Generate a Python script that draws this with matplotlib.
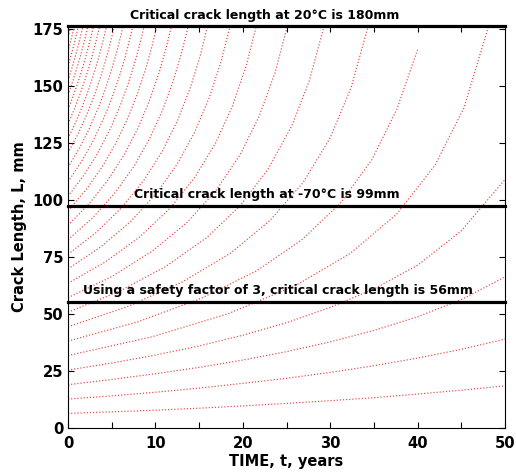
import matplotlib
matplotlib.use('Agg')
import matplotlib.pyplot as plt
from matplotlib.ticker import MultipleLocator

# crack growth curves, one per initial crack length
crack_t = [
    [0, 5, 10, 15, 20, 25, 30, 35, 40, 45, 50],
    [0, 5, 10, 15, 20, 25, 30, 35, 40, 45, 50],
    [0, 5, 10, 15, 20, 25, 30, 35, 40, 45, 50],
    [0, 5, 10, 15, 20, 25, 30, 35, 40, 45, 50],
    [0, 9.6, 18.3, 26, 32.3, 37.6, 42, 45.3, 48.2],
    [0, 8, 15.2, 21.6, 26.8, 31.2, 34.8, 37.6, 40],
    [0, 6.9, 13.1, 18.6, 23.1, 26.9, 30, 32.4, 34.5],
    [0, 5.9, 11.2, 15.9, 19.7, 22.9, 25.6, 27.6, 29.4],
    [0, 5, 9.6, 13.6, 16.9, 19.7, 21.9, 23.7, 25.2],
    [0, 4.3, 8.2, 11.7, 14.5, 16.9, 18.8, 20.4, 21.7],
    [0, 3.7, 7.1, 10.1, 12.5, 14.5, 16.2, 17.5, 18.6],
    [0, 3.2, 6.1, 8.7, 10.8, 12.5, 14, 15.1, 16.1],
    [0, 2.8, 5.3, 7.5, 9.3, 10.8, 12, 13, 13.8],
    [0, 2.4, 4.5, 6.4, 8, 9.3, 10.4, 11.2, 11.9],
    [0, 2.1, 3.9, 5.5, 6.9, 8, 8.9, 9.6, 10.3],
    [0, 1.8, 3.3, 4.8, 5.9, 6.9, 7.7, 8.3, 8.8],
    [0, 1.5, 2.9, 4.1, 5, 5.9, 6.5, 7.1, 7.5],
    [0, 1.3, 2.4, 3.5, 4.3, 5, 5.6, 6, 6.4],
    [0, 1.08, 2.05, 2.91, 3.61, 4.2, 4.69, 5.07, 5.39],
    [0, 0.9, 1.71, 2.43, 3.02, 3.51, 3.92, 4.23, 4.5],
    [0, 0.74, 1.41, 2, 2.49, 2.89, 3.23, 3.49, 3.71],
    [0, 0.6, 1.14, 1.62, 2.01, 2.34, 2.61, 2.82, 3],
    [0, 0.47, 0.9, 1.28, 1.59, 1.85, 2.06, 2.22, 2.37],
    [0, 0.36, 0.68, 0.97, 1.2, 1.4, 1.56, 1.69, 1.79],
    [0, 0.26, 0.49, 0.69, 0.86, 1, 1.11, 1.2, 1.28],
    [0, 0.16, 0.31, 0.44, 0.54, 0.63, 0.71, 0.76, 0.81],
    [0, 0.08, 0.15, 0.21, 0.26, 0.3, 0.34, 0.36, 0.39],
]
crack_L = [
    [6.4, 7.1, 7.8, 8.7, 9.7, 10.8, 12, 13.3, 14.9, 16.6, 18.5],
    [12.7, 14.1, 15.7, 17.5, 19.6, 21.8, 24.4, 27.3, 30.7, 34.5, 39],
    [19, 21.3, 23.8, 26.6, 29.8, 33.5, 37.8, 42.8, 48.8, 56.3, 66.3],
    [25.4, 28.5, 32, 36, 40.7, 46.2, 52.9, 61, 71.4, 86.5, 109],
    [31.8, 40, 50.1, 62.4, 76.6, 93.8, 115.3, 140.4, 177.3],
    [38.1, 46.6, 56.8, 69, 82.7, 98.8, 117.9, 139.6, 166],
    [44.4, 53.4, 64.1, 76.7, 91, 107.7, 127.3, 149.4, 178.5],
    [50.8, 60, 70.9, 83.6, 97.5, 113.6, 132.5, 152.2, 177.7],
    [57.2, 66.4, 77.5, 90.1, 104, 119.9, 137, 156, 177.8],
    [63.5, 72.9, 83.8, 96.5, 109.9, 125.1, 141.1, 159.1, 178.6],
    [69.8, 79.3, 90.3, 102.8, 115.8, 129.8, 145.3, 160.6, 177.1],
    [76.2, 85.7, 96.5, 108.8, 121.5, 134.6, 149.3, 162.9, 178.4],
    [82.6, 92.1, 102.8, 114.5, 126.7, 139.3, 151.8, 164.6, 177],
    [88.9, 98.3, 108.4, 119.7, 131.5, 143.4, 155.6, 166.3, 177.3],
    [95.2, 104.7, 114.5, 125.1, 136.4, 147.2, 157.7, 167.3, 178.5],
    [101.6, 110.8, 119.9, 130.9, 140.7, 151.2, 161.1, 169.7, 177.8],
    [108, 116.6, 126.1, 135.9, 144.5, 154.5, 162.2, 171, 177.5],
    [114.3, 122.7, 131, 140.8, 149, 157.3, 165.4, 171.4, 178],
    [120.6, 128.5, 136.6, 144.9, 152.6, 159.9, 166.7, 172.5, 177.8],
    [127, 134.3, 141.7, 149.2, 156.2, 162.6, 168.5, 173.3, 177.8],
    [133.4, 140, 146.8, 153.4, 159.5, 165, 170, 174.1, 177.8],
    [139.7, 145.7, 151.6, 157.4, 162.6, 167.3, 171.4, 174.7, 177.8],
    [146, 151.2, 156.4, 161.3, 165.6, 169.4, 172.7, 175.3, 177.9],
    [152.4, 156.8, 160.9, 164.9, 168.3, 171.3, 173.9, 176, 177.7],
    [158.7, 162.2, 165.4, 168.4, 171, 173.2, 175, 176.5, 177.8],
    [165.1, 167.4, 169.7, 171.7, 173.3, 174.8, 176.1, 176.9, 177.8],
    [171.5, 172.7, 173.8, 174.8, 175.7, 176.3, 177, 177.3, 177.9],
]

# critical crack lengths (as drawn) and their labels
critical_L = [176.3, 97.4, 55.3]
critical_labels = ['Critical crack length at 20°C is 180mm',
                   'Critical crack length at -70°C is 99mm',
                   'Using a safety factor of 3, critical crack length is 56mm']
label_t = [7.1, 7.5, 1.7]

fig = plt.figure(figsize=(5.16, 4.74), dpi=100)
ax = fig.add_axes([0.1318, 0.097, 0.8469, 0.848])

for t, L in zip(crack_t, crack_L):
    ax.plot(t, L, linestyle=':', color='#e4463f', lw=0.85)

ax.set_xlim(0, 50)
ax.set_ylim(0, 176.3)

for y, lab, x in zip(critical_L, critical_labels, label_t):
    ax.axhline(y, color='black', lw=2.3, clip_on=False, zorder=5)
    ax.text(x, y + 2.0, lab, fontsize=9, fontweight='bold', va='bottom')

ax.xaxis.set_major_locator(MultipleLocator(10))
ax.xaxis.set_minor_locator(MultipleLocator(5))
ax.yaxis.set_major_locator(MultipleLocator(25))
ax.tick_params(which='both', direction='in', top=True, right=True, length=4.3, width=0.8)
ax.tick_params(axis='x', pad=6)
for lab in ax.get_xticklabels() + ax.get_yticklabels():
    lab.set_fontweight('bold')
    lab.set_fontsize(10.6)
for sp in ax.spines.values():
    sp.set_linewidth(0.8)

ax.set_xlabel('TIME, t, years', fontsize=10.5, fontweight='bold', labelpad=2)
ax.set_ylabel('Crack Length, L, mm', fontsize=10.5, fontweight='bold', labelpad=4)

fig.savefig('out.png', dpi=100)
